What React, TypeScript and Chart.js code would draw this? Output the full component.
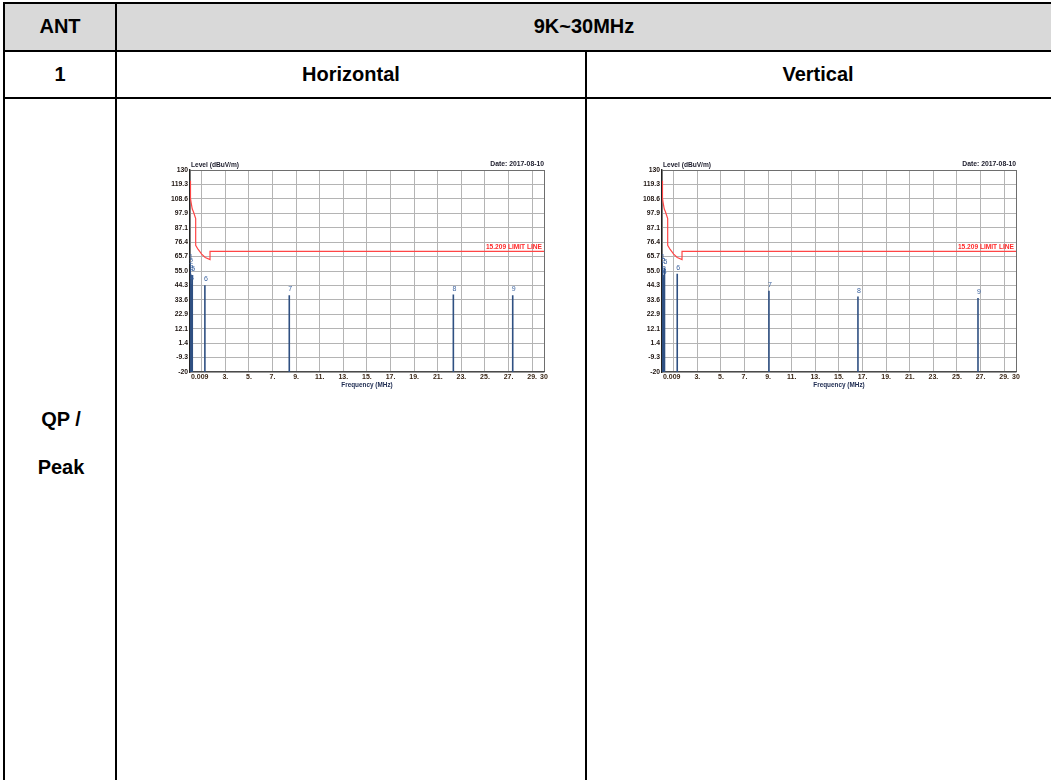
import React, { useEffect, useRef } from "react";
import { Chart, registerables } from "chart.js";

Chart.register(...registerables);

// ---------- data ----------
const Y_MIN = -20;
const Y_MAX = 130;
const Y_TICKS = [-20, -9.3, 1.4, 12.1, 22.9, 33.6, 44.3, 55.0, 65.7, 76.4, 87.1, 97.9, 108.6, 119.3, 130];
const Y_TICK_LABELS = ["-20", "-9.3", "1.4", "12.1", "22.9", "33.6", "44.3", "55.0", "65.7", "76.4", "87.1", "97.9", "108.6", "119.3", "130"];

const X_MIN = 0.009;
const X_MAX = 30;
const X_TICKS = [0.009, 1, 3, 5, 7, 9, 11, 13, 15, 17, 19, 21, 23, 25, 27, 29, 30];
const X_TICK_LABELS = ["0.009", "", "3.", "5.", "7.", "9.", "11.", "13.", "15.", "17.", "19.", "21.", "23.", "25.", "27.", "29.", "30"];

const LIMIT_FREQ = [0.009, 0.05, 0.1, 0.2, 0.3, 0.49, 0.49, 0.7, 1.0, 1.3, 1.705, 1.705, 30];
const LIMIT_LEVEL = [122, 109, 106, 101, 99, 94, 74, 71, 67.5, 65, 63.5, 69.5, 69.5];
const LIMIT_LABEL = "15.209 LIMIT LINE";

const MARKER_LABELS = ["1", "2", "3", "4", "5", "6", "7", "8", "9"];
const H_FREQ = [0.009, 0.03, 0.06, 0.12, 0.2, 1.27, 8.42, 22.32, 27.35];
const H_LEVEL = [61, 57, 53, 45, 52, 44.5, 37, 37.5, 37];
const V_FREQ = [0.009, 0.04, 0.08, 0.15, 0.22, 1.3, 9.07, 16.61, 26.78];
const V_LEVEL = [61, 58, 52, 50, 57.5, 53, 40.3, 36, 35];

const Y_TITLE = "Level (dBuV/m)";
const X_TITLE = "Frequency (MHz)";
const DATE_TEXT = "Date: 2017-08-10";

const FONT = "'Liberation Sans', Arial, sans-serif";

const textPlugin = {
  id: "emiText",
  afterDatasetsDraw(chart: any) {
    const { ctx, chartArea, scales } = chart;
    const xs = scales.x;
    const ys = scales.y;
    const markers = chart.options.plugins.emiText;
    ctx.save();
    // axis titles
    ctx.font = `bold 6.6px ${FONT}`;
    ctx.fillStyle = "#1a1a2a";
    ctx.textBaseline = "middle";
    ctx.textAlign = "left";
    ctx.fillText(Y_TITLE, chartArea.left + 1, chartArea.top - 5);
    ctx.textAlign = "right";
    ctx.font = `bold 6.8px ${FONT}`;
    ctx.fillText(DATE_TEXT, chartArea.right, chartArea.top - 6);
    ctx.textAlign = "center";
    ctx.font = `bold 6.4px ${FONT}`;
    ctx.fillStyle = "#1c2a50";
    ctx.fillText(X_TITLE, (chartArea.left + chartArea.right) / 2, chartArea.bottom + 13);
    // limit label
    ctx.font = `bold 6.6px ${FONT}`;
    ctx.fillStyle = "#ff2a2a";
    ctx.textAlign = "right";
    ctx.fillText(LIMIT_LABEL, chartArea.right - 2, ys.getPixelForValue(LIMIT_LEVEL[LIMIT_LEVEL.length - 1]) - 4.5);
    // marker labels
    ctx.font = `7px ${FONT}`;
    ctx.fillStyle = "#3d64a0";
    ctx.textAlign = "center";
    markers.freq.forEach((f: number, i: number) => {
      ctx.fillText(MARKER_LABELS[i], xs.getPixelForValue(f) + 1, ys.getPixelForValue(markers.level[i]) - 6);
    });
    ctx.restore();
  },
};

function makeConfig(freq: number[], level: number[]): any {
  const spikes: any[] = [];
  freq.forEach((f, i) => {
    spikes.push({ x: f, y: Y_MIN }, { x: f, y: level[i] }, { x: f, y: null });
  });
  const limit = LIMIT_FREQ.map((f, i) => ({ x: f, y: LIMIT_LEVEL[i] }));
  return {
    type: "line",
    data: {
      datasets: [
        { data: limit, borderColor: "#ff4646", borderWidth: 1.2, pointRadius: 0, tension: 0 },
        { data: spikes, borderColor: "#2f5082", borderWidth: 1.6, pointRadius: 0, spanGaps: false },
      ],
    },
    options: {
      animation: false,
      responsive: false,
      devicePixelRatio: 1,
      layout: { padding: { top: 20, left: 0, right: 16, bottom: 0 } },
      plugins: {
        legend: { display: false },
        tooltip: { enabled: false },
        emiText: { freq, level },
      },
      scales: {
        x: {
          type: "linear",
          min: X_MIN,
          max: X_MAX,
          afterBuildTicks: (s: any) => {
            s.ticks = X_TICKS.map((v) => ({ value: v }));
          },
          afterFit: (s: any) => {
            s.height = 28;
          },
          ticks: {
            autoSkip: false,
            maxRotation: 0,
            minRotation: 0,
            padding: 1,
            color: "#3a2616",
            font: { family: FONT, size: 7, weight: "bold" },
            callback: (_v: any, i: number) => (i === 0 ? "          " + X_TICK_LABELS[i] : X_TICK_LABELS[i]),
          },
          grid: {
            drawTicks: false,
            color: (c: any) => (c.tick && c.tick.value === X_MAX ? "#6e6e6e" : "#b4b4b4"),
            lineWidth: 1,
          },
          border: { color: "#4a4a4a", width: 1.2 },
        },
        y: {
          type: "linear",
          min: Y_MIN,
          max: Y_MAX,
          afterBuildTicks: (s: any) => {
            s.ticks = Y_TICKS.map((v) => ({ value: v }));
          },
          afterFit: (s: any) => {
            s.width = 50;
          },
          ticks: {
            padding: 2,
            color: "#1e1410",
            font: { family: FONT, size: 6.8, weight: "bold" },
            callback: (_v: any, i: number) => Y_TICK_LABELS[i],
          },
          grid: {
            drawTicks: false,
            color: (c: any) => (c.tick && c.tick.value === Y_MAX ? "#6e6e6e" : "#b4b4b4"),
            lineWidth: 1,
          },
          border: { color: "#222", width: 1.4 },
        },
      },
    },
    plugins: [textPlugin],
  };
}

function EmiChart({ freq, level, left, top }: { freq: number[]; level: number[]; left: number; top: number }) {
  const ref = useRef<HTMLCanvasElement | null>(null);
  useEffect(() => {
    if (!ref.current) return;
    const chart = new Chart(ref.current, makeConfig(freq, level));
    return () => chart.destroy();
  }, [freq, level]);
  return (
    <canvas
      ref={ref}
      width={420}
      height={250}
      style={{ position: "absolute", left, top, width: 420, height: 250 }}
    />
  );
}

const line = (left: number, top: number, width: number, height: number): React.CSSProperties => ({
  position: "absolute",
  left,
  top,
  width,
  height,
  background: "#000",
});

const label = (cx: number, cy: number): React.CSSProperties => ({
  position: "absolute",
  left: cx - 150,
  top: cy - 14,
  width: 300,
  height: 28,
  lineHeight: "28px",
  textAlign: "center",
  fontFamily: FONT,
  fontWeight: "bold",
  fontSize: 20,
  color: "#000",
});

export default function App() {
  return (
    <div
      style={{
        position: "fixed",
        left: 0,
        top: 0,
        width: 1051,
        height: 780,
        overflow: "hidden",
        background: "#fff",
      }}
    >
      <div style={{ position: "absolute", left: 5, top: 4, width: 1060, height: 46, background: "#d9d9d9" }} />
      <div style={line(3, 2, 1060, 2)} />
      <div style={line(3, 50, 1060, 2)} />
      <div style={line(3, 97, 1060, 2)} />
      <div style={line(3, 2, 2, 800)} />
      <div style={line(115, 2, 2, 800)} />
      <div style={line(585, 50, 2, 800)} />

      <div style={label(60, 26)}>ANT</div>
      <div style={label(584, 26)}>9K~30MHz</div>
      <div style={label(60, 74)}>1</div>
      <div style={label(351, 74)}>Horizontal</div>
      <div style={label(818, 74)}>Vertical</div>
      <div style={label(61, 419)}>QP /</div>
      <div style={label(61, 467)}>Peak</div>

      <EmiChart freq={H_FREQ} level={H_LEVEL} left={140} top={150} />
      <EmiChart freq={V_FREQ} level={V_LEVEL} left={612} top={150} />
    </div>
  );
}
